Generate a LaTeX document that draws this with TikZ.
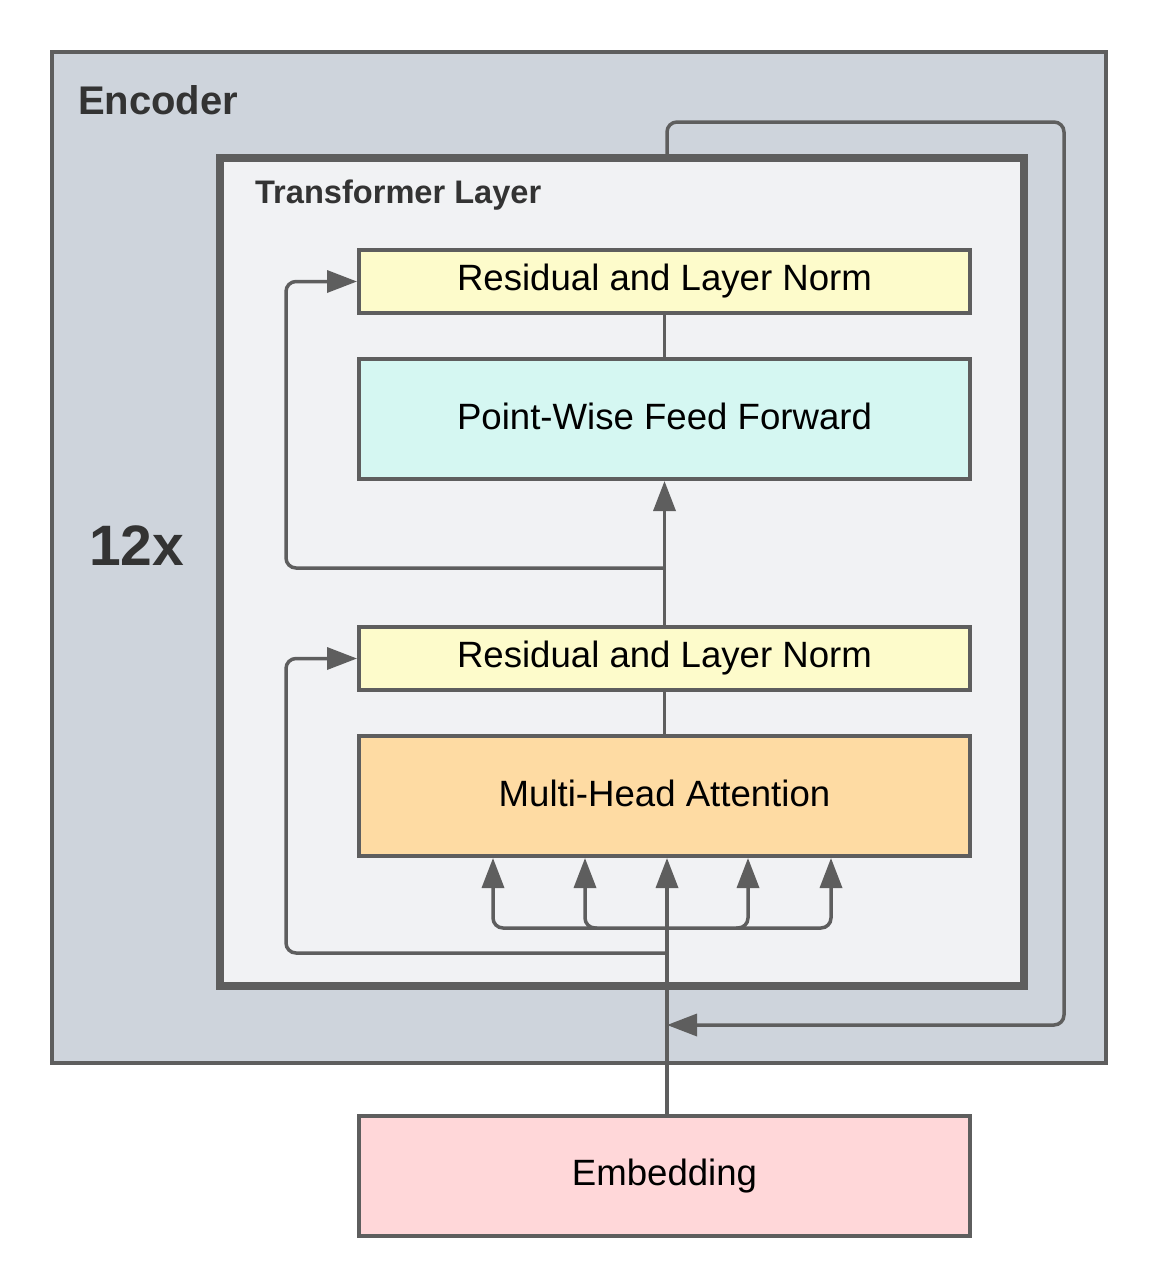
\documentclass[tikz,border=0pt]{standalone}
\usepackage{fontspec}
\setmainfont{Liberation Sans}
\usetikzlibrary{arrows.meta}
\definecolor{encfill}{HTML}{CED4DC}
\definecolor{tlfill}{HTML}{F1F2F4}
\definecolor{edge}{HTML}{5E5E5E}
\definecolor{yel}{HTML}{FDFBCB}
\definecolor{cyn}{HTML}{D5F7F2}
\definecolor{org}{HTML}{FEDBA3}
\definecolor{pnk}{HTML}{FFD7D9}
\definecolor{lbl}{HTML}{333333}
\tikzset{
  blk/.style={draw=edge, line width=2pt, minimum width=305.5pt, inner sep=0pt,
    font=\fontsize{18.3}{20}\selectfont, text=black},
  thin/.style={blk, minimum height=31.5pt},
  thick/.style={blk, minimum height=60pt},
  conn/.style={draw=edge, line width=1.75pt, rounded corners=5pt},
  arr/.style={conn, -{Triangle[length=15pt,width=11pt]}},
}
\begin{document}
\begin{tikzpicture}[x=0.5pt,y=-0.5pt]
\useasboundingbox (0,0) rectangle (1152,1280);
\fill[white] (0,0) rectangle (1152,1280);
% encoder
\node[draw=edge, fill=encfill, line width=2pt, minimum width=527pt, minimum height=505.5pt, inner sep=0pt] (enc) at (579,557.5) {};
\node[anchor=base west, font=\bfseries\fontsize{20}{22}\selectfont, text=lbl] (enclbl) at (71,114) {Encoder};
\node[anchor=base west, font=\bfseries\fontsize{28.5}{30}\selectfont, text=lbl] (rep) at (82,565) {12x};
% transformer layer
\node[draw=edge, fill=tlfill, line width=4pt, minimum width=402pt, minimum height=414pt, inner sep=0pt] (tl) at (622,572) {};
\node[anchor=base west, font=\bfseries\fontsize{16.3}{18}\selectfont, text=lbl] (tllbl) at (248,203) {Transformer Layer};
% blocks
\node[thin, fill=yel] (rln1) at (664.5,281.5) {Residual and Layer Norm};
\node[thick, fill=cyn] (pwff) at (664.5,419) {\raisebox{2.5pt}{Point-Wise Feed Forward}};
\node[thin, fill=yel] (rln2) at (664.5,658.5) {Residual and Layer Norm};
\node[thick, fill=org] (mha) at (664.5,796) {\raisebox{3pt}{Multi-Head Attention}};
\node[thick, fill=pnk] (emb) at (664.5,1176) {\raisebox{1.5pt}{Embedding}};
% helper coordinates
\coordinate (cx) at (667,0);
\coordinate (r1) at (664.5,568);
\coordinate (l1) at (286,0);
\coordinate (r2) at (667,953);
\coordinate (q1) at (493,928);
\coordinate (q2) at (585,928);
\coordinate (q4) at (748,928);
\coordinate (q5) at (831,928);
\coordinate (top) at (667,122);
\coordinate (rt) at (1064,122);
\coordinate (rb) at (1064,1025);
\coordinate (ret) at (667,1025);
% connectors upper
\draw[conn] (rln1.south) -- (pwff.north);
\draw[arr] (rln2.north) -- (pwff.south);
\draw[arr] (r1) -- (r1 -| l1) -- (rln1.west -| l1) -- (rln1.west);
\draw[conn] (rln2.south) -- (mha.north);
% lower
\draw[arr] (emb.north -| cx) -- (mha.south -| cx);
\draw[arr] (r2) -- (r2 -| l1) -- (rln2.west -| l1) -- (rln2.west);
\draw[conn, {Triangle[length=15pt,width=11pt]}-{Triangle[length=15pt,width=11pt]}] (mha.south -| q1) -- (q1) -- (q5) -- (mha.south -| q5);
\draw[arr] ([xshift=6pt]q2) -- (q2) -- (mha.south -| q2);
\draw[arr] ([xshift=-6pt]q4) -- (q4) -- (mha.south -| q4);
% outer loop
\draw[arr] (tl.north -| top) -- (top) -- (rt) -- (rb) -- (ret);
\end{tikzpicture}
\end{document}
